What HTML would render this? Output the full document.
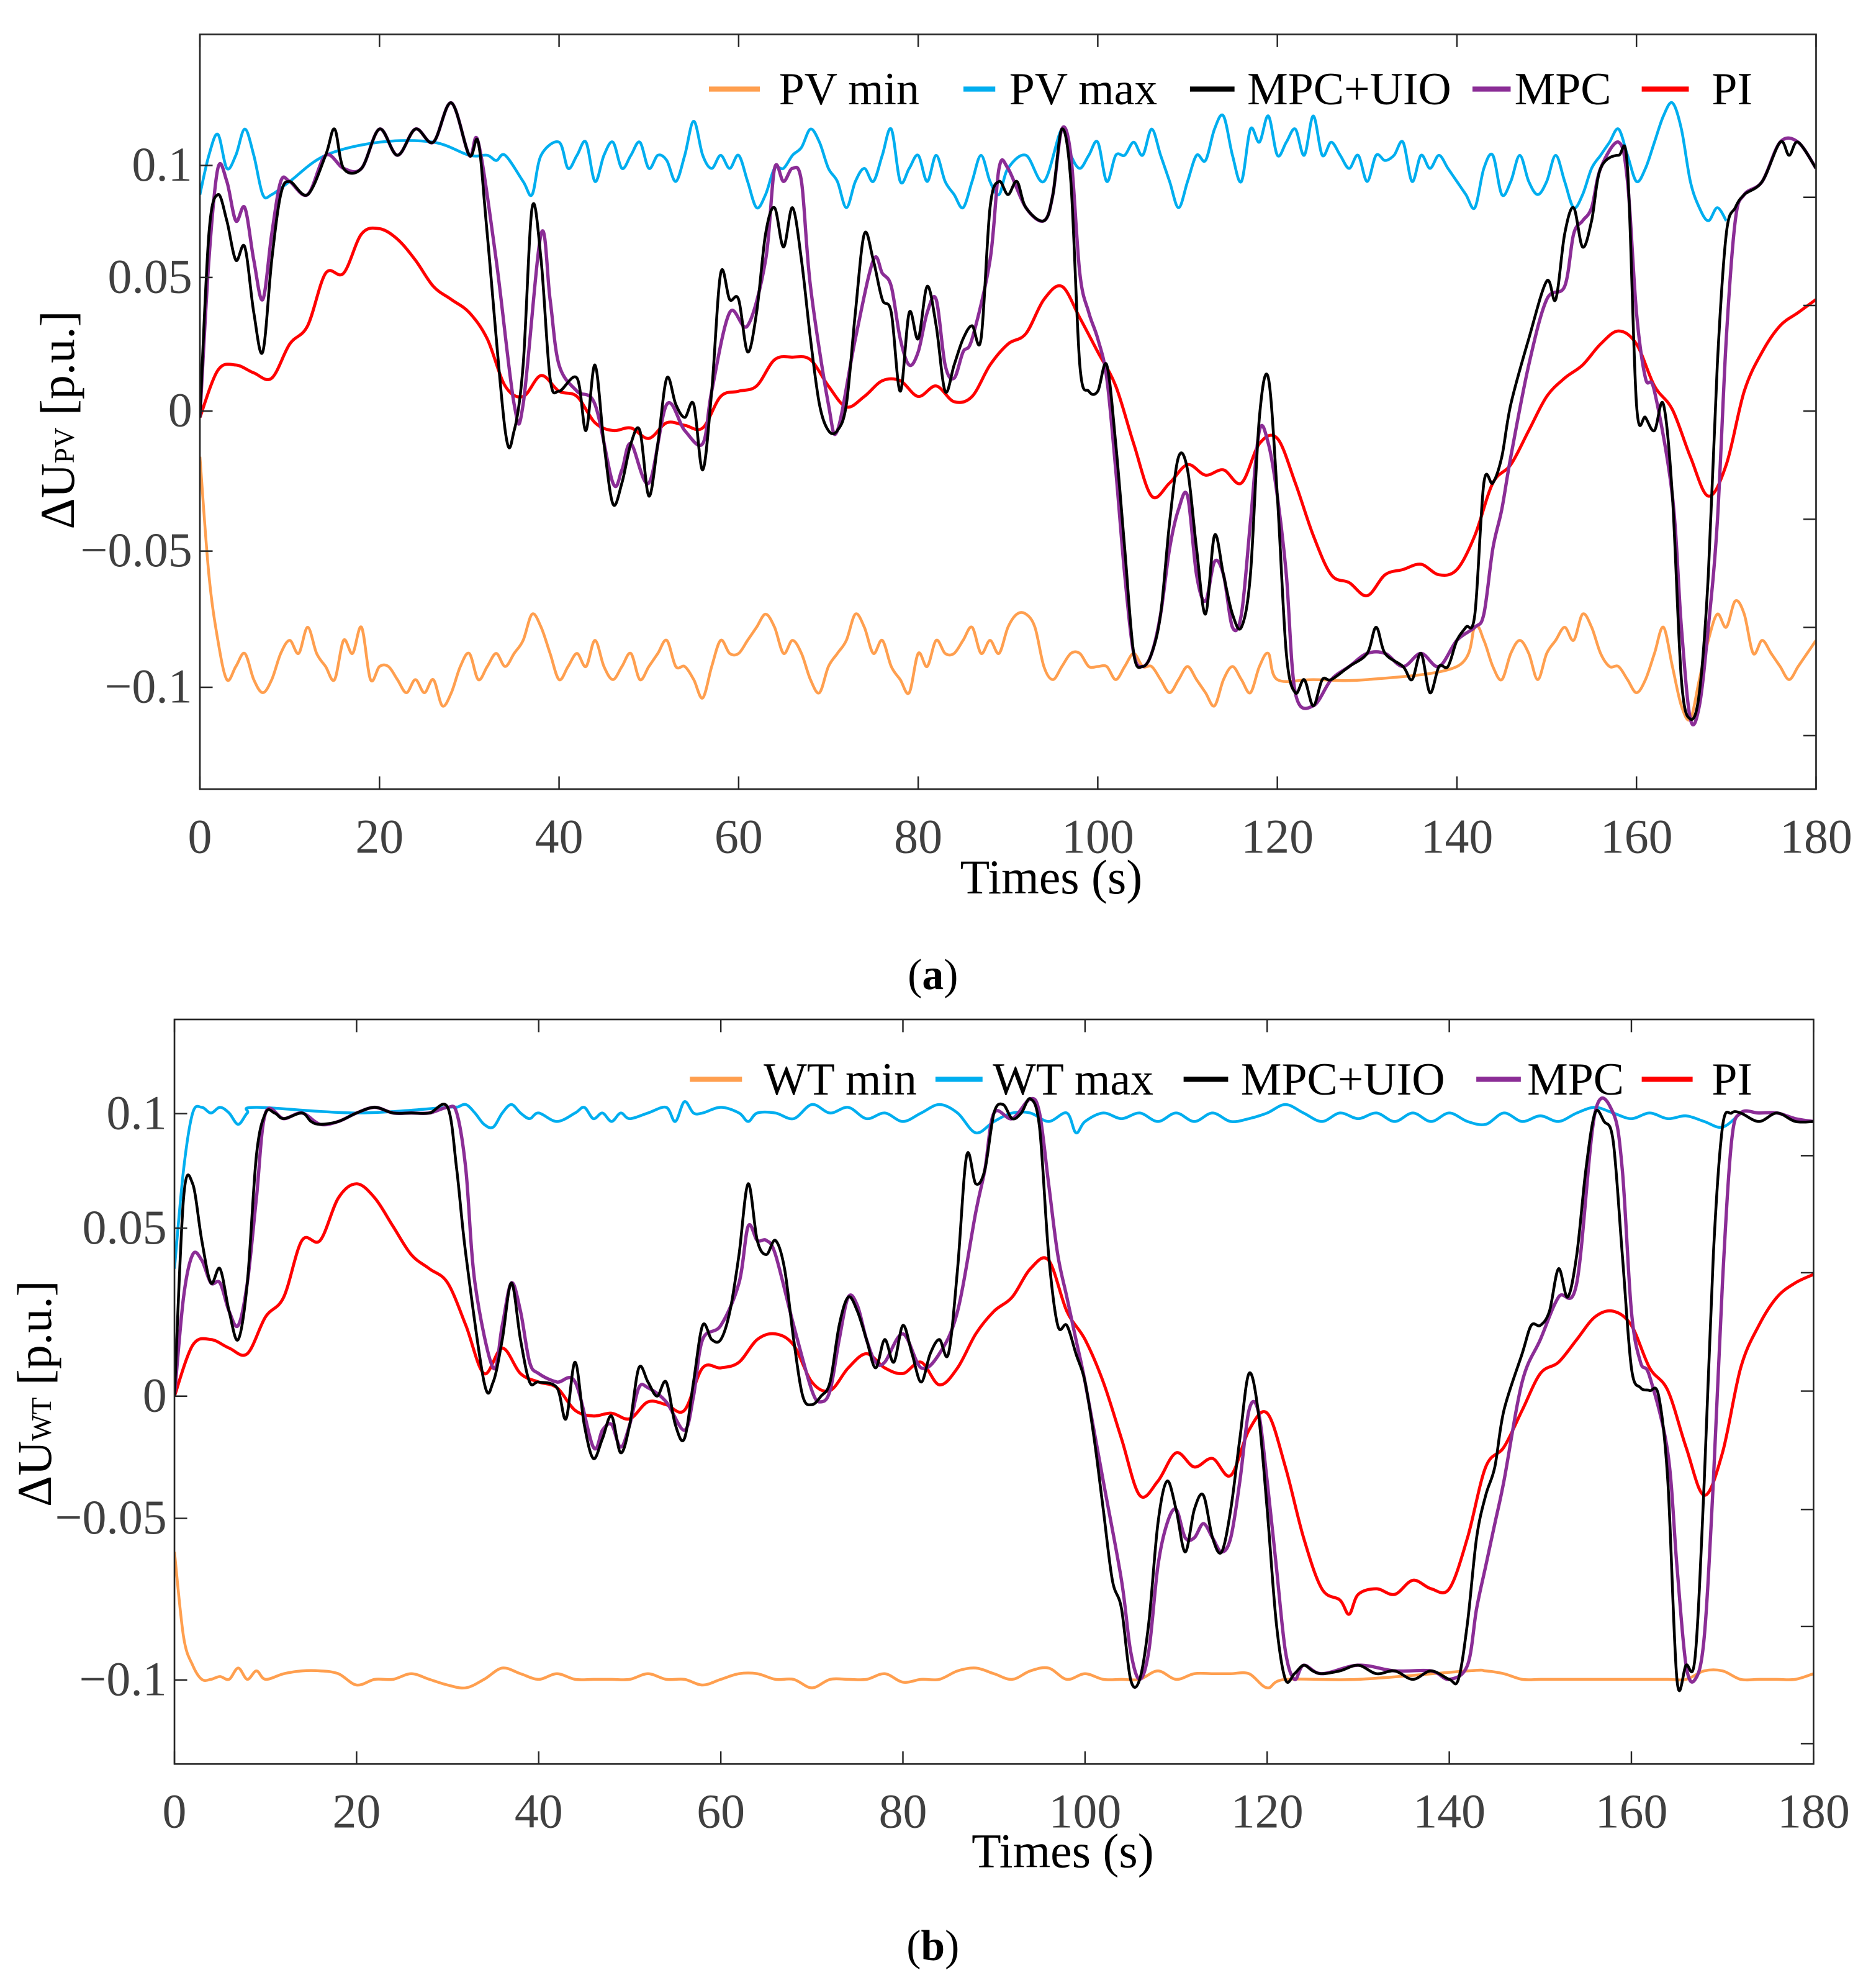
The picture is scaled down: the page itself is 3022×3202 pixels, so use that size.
<!DOCTYPE html>
<html><head><meta charset="utf-8"><style>
html,body{margin:0;padding:0;background:#fff}
svg{display:block}
text{font-family:"Liberation Serif",serif}
</style></head><body>
<svg id="fig" width="3022" height="3202" viewBox="0 0 1474 1562" xmlns="http://www.w3.org/2000/svg"></svg>
<script>
// ---------- Panel (a) data ----------
const xTicks = [0,20,40,60,80,100,120,140,160,180];
const aPI_t=[0,2,4,6,8,10,12,14,16,18,20,22,24,26,28,30,32,34,36,38,40,42,44,46,48,50,52,54,56,58,60,62,64,66,68,70,72,74,76,78,80,82,84,86,88,90,92,94,96,98,100,102,104,106,108,110,112,114,116,118,120,122,124,126,128,130,132,134,136,138,140,142,144,146,148,150,152,154,156,158,160,162,164,166,168,170,172,174,176,178,180];
const aPI_v=[0,0.018,0.02,0.017,0.015,0.028,0.035,0.055,0.055,0.07,0.072,0.068,0.06,0.05,0.045,0.04,0.03,0.012,0.008,0.016,0.01,0.008,-0.002,-0.005,-0.004,-0.008,-0.002,-0.003,-0.004,0.008,0.01,0.012,0.022,0.023,0.022,0.012,0.004,0.008,0.014,0.014,0.008,0.012,0.006,0.008,0.02,0.028,0.032,0.045,0.05,0.038,0.025,0.012,-0.01,-0.03,-0.025,-0.018,-0.022,-0.02,-0.025,-0.01,-0.008,-0.025,-0.045,-0.06,-0.063,-0.068,-0.06,-0.058,-0.056,-0.06,-0.058,-0.045,-0.025,-0.018,-0.005,0.008,0.015,0.02,0.028,0.033,0.028,0.012,0.003,-0.015,-0.03,-0.018,0.01,0.025,0.035,0.04,0.045];
const aUIO_t=[0,1,2,3,4,5,6,7,8,9,10,12,14,15,16,18,20,22,24,26,28,30,31,32,34,35,36,37,38,39,40,42,43,44,45,46,47,48,49,50,51,52,53,54,55,56,57,58,59,60,61,62,63,64,65,66,67,68,69,70,71,72,73,74,75,76,77,78,79,80,81,82,83,84,85,86,87,88,89,90,91,92,94,95,96,97,98,99,100,101,102,103,104,105,106,107,108,109,110,111,112,113,114,115,116,117,118,119,120,121,122,123,124,125,126,128,130,131,132,134,135,136,137,138,139,140,141,142,143,144,145,146,148,150,151,152,153,154,155,156,158,159,160,161,162,163,164,165,166,167,168,169,170,171,172,174,176,177,178,180];
const aUIO_v=[0,0.07,0.085,0.075,0.06,0.065,0.04,0.025,0.06,0.085,0.09,0.085,0.1,0.11,0.095,0.095,0.11,0.1,0.11,0.105,0.12,0.1,0.105,0.07,-0.005,-0.005,0.02,0.08,0.06,0.015,0.01,0.015,-0.005,0.02,-0.01,-0.033,-0.025,-0.01,-0.005,-0.03,-0.01,0.015,0.005,0,0.005,-0.02,0.01,0.055,0.045,0.045,0.025,0.04,0.07,0.08,0.065,0.08,0.06,0.03,0.005,-0.005,-0.005,0.005,0.04,0.07,0.06,0.045,0.04,0.01,0.04,0.03,0.05,0.035,0.01,0.02,0.03,0.035,0.03,0.08,0.09,0.085,0.09,0.08,0.075,0.085,0.11,0.09,0.02,0.01,0.01,0.02,-0.01,-0.05,-0.09,-0.095,-0.09,-0.075,-0.04,-0.015,-0.02,-0.05,-0.075,-0.045,-0.06,-0.075,-0.08,-0.06,0,0.015,-0.03,-0.09,-0.105,-0.1,-0.11,-0.1,-0.1,-0.095,-0.09,-0.08,-0.09,-0.095,-0.1,-0.09,-0.105,-0.095,-0.095,-0.085,-0.08,-0.075,-0.025,-0.025,-0.015,0.005,0.03,0.052,0.045,0.07,0.08,0.065,0.075,0.095,0.1,0.095,0.005,0,-0.005,0.005,-0.03,-0.1,-0.115,-0.105,-0.06,0.02,0.07,0.08,0.085,0.09,0.105,0.1,0.105,0.095];
const aMPC_t=[0,1,2,3,4,5,6,7,8,9,10,12,14,16,18,20,22,24,26,28,30,31,33,35,36,38,39,40,42,44,46,47,48,50,52,54,56,57,59,61,63,64,65,66,67,68,70,71,73,75,76,77,78,79,80,81,82,83,84,85,86,88,89,90,92,94,95,96,97,98,99,100,101,102,103,104,105,106,107,108,109,110,111,112,113,114,115,116,117,118,119,120,121,122,124,126,128,130,132,134,136,138,140,142,143,144,145,146,148,150,152,153,154,155,156,158,159,160,161,162,164,165,166,167,168,169,170,171,172,174,176,178,180];
const aMPC_v=[0,0.06,0.095,0.09,0.075,0.08,0.06,0.045,0.07,0.09,0.09,0.085,0.1,0.095,0.095,0.11,0.1,0.11,0.105,0.12,0.1,0.105,0.06,0.005,0.005,0.07,0.045,0.02,0.01,0.005,-0.025,-0.02,-0.01,-0.025,0.005,-0.005,-0.01,0.01,0.04,0.035,0.06,0.095,0.09,0.095,0.09,0.05,0.005,-0.005,0.03,0.06,0.055,0.05,0.03,0.02,0.025,0.04,0.045,0.02,0.015,0.025,0.03,0.06,0.095,0.095,0.08,0.075,0.085,0.11,0.1,0.055,0.04,0.03,0.015,-0.02,-0.06,-0.09,-0.095,-0.09,-0.075,-0.05,-0.035,-0.03,-0.06,-0.07,-0.055,-0.06,-0.08,-0.075,-0.04,-0.005,-0.01,-0.03,-0.06,-0.105,-0.11,-0.1,-0.095,-0.09,-0.09,-0.095,-0.09,-0.095,-0.085,-0.08,-0.075,-0.05,-0.035,-0.015,0.02,0.045,0.05,0.07,0.075,0.08,0.095,0.105,0.09,0.04,0.015,0.01,-0.03,-0.08,-0.115,-0.11,-0.08,-0.04,0.03,0.075,0.085,0.09,0.105,0.105,0.095];
const aMax_t=[0,1,2,3,4,5,6,7,8,10,14,20,26,30,32,33,34,36,37,38,40,41,42,43,44,45,46,47,48,49,50,51,52,53,54,55,56,57,58,59,60,61,62,63,64,65,66,67,68,69,70,71,72,73,74,75,76,77,78,79,80,81,82,83,84,85,86,87,88,89,90,92,94,96,97,98,99,100,101,102,103,104,105,106,107,108,109,110,111,112,113,114,115,116,117,118,119,120,121,122,123,124,125,126,127,128,129,130,131,132,133,134,135,136,137,138,139,140,141,142,143,144,145,146,147,148,149,150,151,152,153,154,155,156,157,158,159,160,161,162,163,164,165,166,167,168,169,170];
const aMax_v=[0.085,0.1,0.108,0.095,0.1,0.11,0.1,0.085,0.085,0.09,0.1,0.105,0.105,0.1,0.1,0.098,0.1,0.09,0.085,0.1,0.105,0.095,0.1,0.105,0.09,0.1,0.105,0.095,0.1,0.105,0.095,0.1,0.098,0.09,0.1,0.113,0.1,0.095,0.1,0.095,0.1,0.09,0.08,0.085,0.095,0.095,0.1,0.103,0.11,0.105,0.095,0.09,0.08,0.09,0.095,0.09,0.1,0.11,0.09,0.095,0.1,0.09,0.1,0.09,0.085,0.08,0.09,0.1,0.09,0.085,0.095,0.1,0.09,0.11,0.1,0.095,0.1,0.105,0.09,0.1,0.1,0.105,0.1,0.11,0.1,0.09,0.08,0.09,0.1,0.098,0.11,0.115,0.1,0.09,0.11,0.105,0.115,0.1,0.105,0.11,0.1,0.115,0.1,0.105,0.1,0.095,0.1,0.09,0.1,0.098,0.1,0.105,0.09,0.1,0.095,0.1,0.095,0.09,0.085,0.08,0.095,0.1,0.085,0.09,0.1,0.09,0.085,0.09,0.1,0.09,0.08,0.085,0.095,0.1,0.105,0.11,0.1,0.09,0.095,0.105,0.115,0.12,0.11,0.09,0.08,0.075,0.08,0.075];
const aMin_t=[0,1,2,3,4,5,6,7,8,9,10,11,12,13,14,15,16,17,18,19,20,21,22,23,24,25,26,27,28,29,30,31,32,33,34,35,36,37,38,39,40,41,42,43,44,45,46,47,48,49,50,51,52,53,54,55,56,57,58,59,60,61,62,63,64,65,66,67,68,69,70,71,72,73,74,75,76,77,78,79,80,81,82,83,84,85,86,87,88,89,90,91,92,93,94,95,96,97,98,99,100,101,102,103,104,105,106,107,108,109,110,111,112,113,114,115,116,117,118,119,120,124,130,140,142,143,144,145,146,147,148,149,150,151,152,153,154,155,156,157,158,159,160,161,162,163,164,165,166,167,168,169,170,171,172,173,174,175,176,177,178,179,180];
const aMin_v=[-0.015,-0.06,-0.085,-0.1,-0.095,-0.09,-0.1,-0.105,-0.1,-0.09,-0.085,-0.09,-0.08,-0.09,-0.095,-0.1,-0.085,-0.09,-0.08,-0.1,-0.095,-0.095,-0.1,-0.105,-0.1,-0.105,-0.1,-0.11,-0.105,-0.095,-0.09,-0.1,-0.095,-0.09,-0.095,-0.09,-0.085,-0.075,-0.08,-0.09,-0.1,-0.095,-0.09,-0.095,-0.085,-0.095,-0.1,-0.095,-0.09,-0.1,-0.095,-0.09,-0.085,-0.095,-0.095,-0.1,-0.107,-0.095,-0.085,-0.09,-0.09,-0.085,-0.08,-0.075,-0.08,-0.09,-0.085,-0.09,-0.1,-0.105,-0.095,-0.09,-0.085,-0.075,-0.08,-0.09,-0.085,-0.095,-0.1,-0.105,-0.09,-0.095,-0.085,-0.09,-0.09,-0.085,-0.08,-0.09,-0.085,-0.09,-0.08,-0.075,-0.075,-0.08,-0.095,-0.1,-0.095,-0.09,-0.09,-0.095,-0.095,-0.095,-0.1,-0.095,-0.09,-0.095,-0.095,-0.1,-0.105,-0.1,-0.095,-0.1,-0.105,-0.11,-0.1,-0.095,-0.1,-0.105,-0.095,-0.09,-0.1,-0.1,-0.1,-0.095,-0.08,-0.085,-0.095,-0.1,-0.09,-0.085,-0.09,-0.1,-0.09,-0.085,-0.08,-0.085,-0.075,-0.08,-0.09,-0.095,-0.095,-0.1,-0.105,-0.1,-0.09,-0.08,-0.095,-0.11,-0.115,-0.1,-0.085,-0.075,-0.08,-0.07,-0.075,-0.09,-0.085,-0.09,-0.095,-0.1,-0.095,-0.09,-0.085];

// ---------- Panel (b) data ----------
const bPI_t=[0,2,4,6,8,10,12,14,16,18,20,22,24,26,28,30,32,34,36,38,40,42,44,46,48,50,52,54,56,58,60,62,64,66,68,70,72,74,76,78,80,82,84,86,88,90,92,94,96,98,100,102,104,106,108,110,112,114,116,118,120,122,124,126,128,129,130,132,134,136,138,140,142,144,146,148,150,152,154,156,158,160,162,164,166,168,170,172,174,176,178,180];
const bPI_v=[0,0.018,0.02,0.017,0.015,0.028,0.035,0.055,0.055,0.07,0.075,0.07,0.06,0.05,0.045,0.04,0.025,0.008,0.017,0.008,0.005,0.003,-0.005,-0.007,-0.006,-0.008,-0.002,-0.003,-0.005,0.01,0.01,0.012,0.02,0.022,0.018,0.005,0.002,0.01,0.015,0.01,0.008,0.012,0.004,0.01,0.022,0.03,0.035,0.045,0.048,0.03,0.02,0.005,-0.015,-0.035,-0.03,-0.02,-0.025,-0.022,-0.028,-0.012,-0.006,-0.025,-0.05,-0.068,-0.072,-0.077,-0.07,-0.068,-0.07,-0.065,-0.068,-0.068,-0.05,-0.025,-0.018,-0.005,0.008,0.012,0.02,0.028,0.03,0.025,0.01,0.002,-0.018,-0.035,-0.02,0.01,0.025,0.035,0.04,0.043];
const bUIO_t=[0,1,2,3,4,5,6,7,8,9,10,11,12,14,15,16,18,20,22,24,26,28,30,31,32,34,35,36,37,38,39,40,42,43,44,45,46,47,48,49,50,51,52,53,54,55,56,57,58,59,60,61,62,63,64,65,66,67,68,69,70,71,72,73,74,75,76,77,78,79,80,81,82,83,84,85,86,87,88,89,90,91,92,93,94,95,96,97,98,99,100,101,102,103,104,105,106,107,108,109,110,111,112,113,114,115,116,117,118,119,120,121,122,123,124,125,126,128,130,132,134,136,138,140,141,142,143,144,145,146,148,149,150,151,152,153,154,155,156,157,158,159,160,161,162,163,164,165,166,167,168,169,170,171,172,174,176,178,180];
const bUIO_v=[0,0.07,0.075,0.055,0.04,0.045,0.03,0.02,0.04,0.085,0.1,0.1,0.098,0.1,0.097,0.096,0.097,0.1,0.102,0.1,0.1,0.1,0.102,0.08,0.05,0.005,0.005,0.02,0.04,0.02,0.005,0.005,0.003,-0.008,0.012,-0.01,-0.022,-0.015,-0.007,-0.02,-0.01,0.01,0.005,0,0.005,-0.01,-0.015,0.005,0.025,0.02,0.02,0.03,0.05,0.075,0.055,0.05,0.055,0.045,0.02,0,-0.003,0,0.005,0.025,0.035,0.03,0.02,0.01,0.02,0.012,0.025,0.015,0.005,0.015,0.02,0.015,0.045,0.085,0.075,0.08,0.1,0.103,0.098,0.1,0.105,0.095,0.05,0.025,0.025,0.015,0.005,-0.015,-0.04,-0.065,-0.075,-0.1,-0.1,-0.08,-0.045,-0.03,-0.04,-0.055,-0.04,-0.035,-0.05,-0.055,-0.04,-0.015,0.008,-0.005,-0.04,-0.08,-0.1,-0.098,-0.095,-0.097,-0.098,-0.097,-0.095,-0.098,-0.097,-0.1,-0.097,-0.1,-0.1,-0.08,-0.05,-0.035,-0.025,-0.005,0.015,0.025,0.025,0.03,0.045,0.035,0.05,0.08,0.1,0.097,0.09,0.05,0.01,0.003,0.002,0,-0.03,-0.1,-0.095,-0.092,-0.03,0.05,0.095,0.1,0.1,0.097,0.1,0.097,0.097];
const bMPC_t=[0,1,2,3,4,5,6,7,8,9,10,12,14,16,18,20,22,24,26,28,30,31,32,33,35,36,37,38,39,40,42,44,46,47,48,49,50,51,52,54,56,57,58,60,62,63,64,65,66,68,70,71,72,73,74,75,76,77,78,80,82,84,86,88,89,90,92,94,95,96,97,98,99,100,102,104,105,106,107,108,109,110,111,112,113,114,115,116,117,118,119,120,121,122,123,124,126,130,134,138,140,142,143,144,145,146,148,150,152,154,156,158,159,160,161,162,164,165,166,167,168,169,170,171,172,174,176,178,180];
const bMPC_v=[0,0.035,0.05,0.048,0.04,0.04,0.03,0.025,0.04,0.07,0.1,0.098,0.1,0.096,0.097,0.1,0.102,0.1,0.1,0.1,0.102,0.1,0.08,0.04,0.01,0.025,0.04,0.03,0.012,0.008,0.005,0.005,-0.018,-0.012,-0.01,-0.018,-0.01,0.003,0.003,-0.002,-0.012,0,0.02,0.025,0.04,0.06,0.055,0.055,0.05,0.025,0.002,-0.002,0.002,0.02,0.035,0.032,0.02,0.012,0.012,0.022,0.01,0.015,0.03,0.065,0.08,0.1,0.098,0.105,0.1,0.075,0.05,0.035,0.02,0.005,-0.03,-0.065,-0.09,-0.1,-0.09,-0.06,-0.045,-0.04,-0.05,-0.05,-0.045,-0.05,-0.055,-0.05,-0.03,-0.005,-0.005,-0.03,-0.06,-0.09,-0.1,-0.095,-0.098,-0.095,-0.097,-0.097,-0.1,-0.095,-0.075,-0.06,-0.045,-0.03,0.005,0.02,0.035,0.04,0.1,0.1,0.08,0.03,0.012,0.007,-0.02,-0.06,-0.095,-0.1,-0.085,-0.03,0.04,0.09,0.1,0.1,0.1,0.098,0.097];
const bMax_t=[0,1,2,3,4,5,6,7,8,9,20,30,31,32,33,34,35,36,37,38,39,40,42,44,45,46,47,48,49,50,52,54,55,56,57,58,60,62,63,64,66,68,70,72,74,76,78,80,82,84,86,88,90,92,94,96,98,99,100,102,104,106,108,110,112,114,116,118,120,122,124,126,128,130,132,134,136,138,140,142,144,146,148,150,152,154,156,158,160,162,164,166,168,170,172];
const bMax_v=[0.045,0.08,0.1,0.102,0.1,0.102,0.1,0.096,0.1,0.102,0.1,0.102,0.102,0.103,0.1,0.096,0.095,0.1,0.103,0.1,0.098,0.1,0.097,0.1,0.102,0.098,0.1,0.097,0.1,0.098,0.1,0.102,0.097,0.104,0.1,0.1,0.102,0.1,0.097,0.1,0.1,0.098,0.103,0.1,0.102,0.098,0.1,0.097,0.1,0.103,0.1,0.093,0.097,0.1,0.1,0.097,0.1,0.093,0.097,0.1,0.098,0.1,0.097,0.1,0.097,0.1,0.097,0.098,0.1,0.103,0.1,0.097,0.1,0.098,0.1,0.097,0.1,0.097,0.1,0.097,0.096,0.1,0.097,0.099,0.097,0.1,0.102,0.1,0.098,0.1,0.098,0.099,0.097,0.095,0.1];
const bMin_t=[0,1,2,3,4,5,6,7,8,9,10,12,14,16,18,20,22,24,26,28,30,32,34,36,38,40,42,44,46,48,50,52,54,56,58,60,62,64,66,68,70,72,74,76,78,80,82,84,86,88,90,92,94,96,98,100,102,104,106,108,110,112,114,116,118,120,122,130,142,144,146,148,150,152,154,156,158,160,162,164,166,168,170,172,174,176,178,180];
const bMin_v=[-0.055,-0.085,-0.095,-0.1,-0.1,-0.099,-0.1,-0.096,-0.1,-0.097,-0.1,-0.098,-0.097,-0.097,-0.098,-0.102,-0.1,-0.1,-0.098,-0.1,-0.102,-0.103,-0.1,-0.096,-0.098,-0.1,-0.098,-0.1,-0.1,-0.1,-0.1,-0.098,-0.1,-0.1,-0.102,-0.1,-0.098,-0.098,-0.1,-0.1,-0.103,-0.1,-0.1,-0.1,-0.098,-0.101,-0.1,-0.1,-0.097,-0.096,-0.098,-0.1,-0.097,-0.096,-0.1,-0.098,-0.1,-0.1,-0.1,-0.097,-0.1,-0.098,-0.098,-0.098,-0.098,-0.103,-0.1,-0.1,-0.097,-0.097,-0.098,-0.1,-0.1,-0.1,-0.1,-0.1,-0.1,-0.1,-0.1,-0.1,-0.1,-0.097,-0.097,-0.1,-0.1,-0.1,-0.1,-0.098];

const yTickVals = [0.1,0.05,0,-0.05,-0.1];
const yTickLabels = ["0.1","0.05","0","\u22120.05","\u22120.1"];

const NS="http://www.w3.org/2000/svg";
const svg=document.getElementById('fig');
function mk(tag,attrs,parent){const e=document.createElementNS(NS,tag);for(const k in attrs)e.setAttribute(k,attrs[k]);(parent||svg).appendChild(e);return e;}
function smooth(pts){let d="M"+pts[0][0].toFixed(2)+","+pts[0][1].toFixed(2);
 for(let i=0;i<pts.length-1;i++){const p0=pts[Math.max(0,i-1)],p1=pts[i],p2=pts[i+1],p3=pts[Math.min(pts.length-1,i+2)];
  const c1x=p1[0]+(p2[0]-p0[0])/6,c1y=p1[1]+(p2[1]-p0[1])/6,c2x=p2[0]-(p3[0]-p1[0])/6,c2y=p2[1]-(p3[1]-p1[1])/6;
  d+=" C"+c1x.toFixed(2)+","+c1y.toFixed(2)+" "+c2x.toFixed(2)+","+c2y.toFixed(2)+" "+p2[0].toFixed(2)+","+p2[1].toFixed(2);}
 return d;}

function panel(cfg){
 const g=mk('g',{});
 
 
 const X=t=>cfg.L+(cfg.R-cfg.L)*t/180;
 const Y=v=>cfg.zero-v*cfg.k;
 const cid=cfg.name+'-clip';
 const cp=mk('clipPath',{id:cid},g);mk('rect',{x:cfg.L,y:cfg.T,width:cfg.R-cfg.L,height:cfg.B-cfg.T},cp);
 const series=[
  [cfg.min,'#FF9F4F',2.2,cfg.minName],[cfg.max,'#00AEEF',2.2,cfg.maxName],
  [cfg.pi,'#FF0000',2.4,'pi-line'],[cfg.mpc,'#8B2D96',2.6,'mpc-line'],[cfg.uio,'#000000',2.2,'mpc-uio-line']];
 for(const s of series){
  const pts=s[0][0].map((t,i)=>[X(t),Y(s[0][1][i])]);
  const p=mk('path',{d:smooth(pts),fill:'none',stroke:s[1],'stroke-width':s[2],'clip-path':'url(#'+cid+')','stroke-linejoin':'round'},g);
  
  
 }
 const fr=mk('rect',{x:cfg.L,y:cfg.T,width:cfg.R-cfg.L,height:cfg.B-cfg.T,fill:'none',stroke:'#262626','stroke-width':1.3},g);
 
 
 for(const t of xTicks){
  const x=X(t);
  mk('line',{x1:x,y1:cfg.B,x2:x,y2:cfg.B-10,stroke:'#262626','stroke-width':1.2},g);
  mk('line',{x1:x,y1:cfg.T,x2:x,y2:cfg.T+10,stroke:'#262626','stroke-width':1.2},g);
  const tx=mk('text',{x:x,y:cfg.B+50,'font-size':38,fill:'#404040','text-anchor':'middle'},g);
  tx.textContent=String(t);
  
  
 }
 cfg.rticks.forEach(y=>mk('line',{x1:cfg.R,y1:y,x2:cfg.R-10,y2:y,stroke:'#262626','stroke-width':1.2},g));
 cfg.lpos.forEach((y,i)=>{
  mk('line',{x1:cfg.L,y1:y,x2:cfg.L+10,y2:y,stroke:'#262626','stroke-width':1.2},g);
  const tx=mk('text',{x:cfg.L-6,y:y+12,'font-size':38,fill:'#404040','text-anchor':'end'},g);
  tx.textContent=yTickLabels[i];
  
  
 });
 const xt=mk('text',{x:cfg.xtx,y:cfg.xty,'font-size':38,fill:'#000','text-anchor':'middle'},g);
 xt.textContent='Times (s)';
 
 
 const yt=mk('text',{x:0,y:0,'font-size':38,fill:'#000','text-anchor':'middle',transform:'translate('+cfg.ytx+','+cfg.yty+') rotate(-90)'},g);
 yt.innerHTML='\u0394U<tspan font-size="22">'+cfg.sub+'</tspan> [p.u.]';
 
 
 cfg.legend.forEach(e=>{
  const lg=mk('g',{},g);
  
  
  mk('line',{x1:e[0],y1:cfg.ly,x2:e[1],y2:cfg.ly,stroke:e[2],'stroke-width':4},lg);
  const t=mk('text',{x:e[3],y:cfg.ly+12,'font-size':36,fill:'#000'},lg);t.textContent=e[4];
 });
 const cap=mk('text',{x:733,y:cfg.capy,'font-size':34,fill:'#000','text-anchor':'middle'},g);
 cap.innerHTML='(<tspan font-weight="bold">'+cfg.cap+'</tspan>)';
 
 
}

panel({name:'panel-a',L:157,R:1427,T:27,B:620,zero:328,k:2060,
 min:[aMin_t,aMin_v],max:[aMax_t,aMax_v],pi:[aPI_t,aPI_v],mpc:[aMPC_t,aMPC_v],uio:[aUIO_t,aUIO_v],
 minName:'pv-min-line',maxName:'pv-max-line',
 rticks:[155,240,323,408,493,578],lpos:[130,218,323,433,540],
 xtx:826,xty:702,ytx:58,yty:330,sub:'PV',ly:70,capy:777,cap:'a',
 legend:[[557,597,'#FF9F4F',612,'PV min'],[757,782,'#00AEEF',793,'PV max'],[935,970,'#000',980,'MPC+UIO'],[1157,1187,'#8B2D96',1190,'MPC'],[1290,1327,'#FF0000',1345,'PI']]});
panel({name:'panel-b',L:137,R:1425,T:801,B:1386,zero:1097,k:2225,
 min:[bMin_t,bMin_v],max:[bMax_t,bMax_v],pi:[bPI_t,bPI_v],mpc:[bMPC_t,bMPC_v],uio:[bUIO_t,bUIO_v],
 minName:'wt-min-line',maxName:'wt-max-line',
 rticks:[908,1000,1093,1186,1278,1370],lpos:[875,965,1097,1193,1320],
 xtx:835,xty:1467,ytx:40,yty:1095,sub:'WT',ly:848,capy:1540,cap:'b',
 legend:[[542,583,'#FF9F4F',600,'WT min'],[735,772,'#00AEEF',780,'WT max'],[930,965,'#000',975,'MPC+UIO'],[1160,1195,'#8B2D96',1200,'MPC'],[1290,1330,'#FF0000',1345,'PI']]});
</script>
</body></html>
